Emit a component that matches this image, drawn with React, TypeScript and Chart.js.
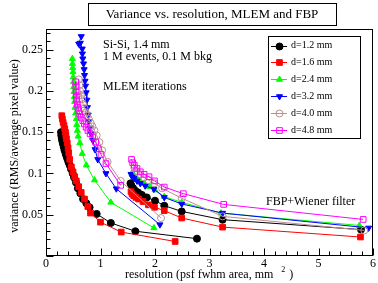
import React, { useEffect, useRef } from 'react';
import { Chart, registerables } from 'chart.js';

Chart.register(...registerables);

const FONT = '"Liberation Serif", "Times New Roman", serif';

const seriesLabels = ['d=1.2 mm', 'd=1.6 mm', 'd=2.4 mm', 'd=3.2 mm', 'd=4.0 mm', 'd=4.8 mm'];
const seriesColors = ['#000000', '#ff0000', '#00ff00', '#0000ff', '#bc8f8f', '#ff00ff'];
const seriesMarkers = ['circle', 'rect', 'triangle', 'triangle', 'circle', 'rect'];
const seriesRotation = [0, 0, 0, 180, 0, 0];
const seriesFilled = [true, true, true, true, false, false];
const seriesRadius = [3.5, 4, 3.5, 3.5, 3.5, 4];

const xTickValues = [0, 1, 2, 3, 4, 5, 6];
const yTickValues = [0.05, 0.1, 0.15, 0.2, 0.25];

// MLEM iterations
const mlemD12: [number, number][] = [
  [0.275, 0.150], [0.28, 0.146], [0.29, 0.142], [0.30, 0.139], [0.31, 0.136], [0.325, 0.132],
  [0.34, 0.128], [0.36, 0.124], [0.375, 0.121], [0.39, 0.118], [0.41, 0.114], [0.435, 0.110],
  [0.46, 0.105], [0.49, 0.100], [0.515, 0.095], [0.55, 0.089], [0.585, 0.082], [0.63, 0.076],
  [0.68, 0.069], [0.74, 0.064], [0.80, 0.059], [0.93, 0.051], [1.19, 0.040], [1.64, 0.030], [2.77, 0.021],
];
const mlemD16: [number, number][] = [
  [0.29, 0.170], [0.30, 0.166], [0.314, 0.162], [0.33, 0.158], [0.344, 0.154], [0.357, 0.150],
  [0.365, 0.146], [0.375, 0.142], [0.39, 0.137], [0.405, 0.131], [0.417, 0.125], [0.435, 0.117],
  [0.465, 0.108], [0.495, 0.102], [0.526, 0.096], [0.556, 0.091], [0.60, 0.084], [0.646, 0.077],
  [0.707, 0.069], [0.767, 0.060], [0.816, 0.052], [1.0, 0.041], [1.38, 0.029], [2.37, 0.0176],
];
const mlemD24: [number, number][] = [
  [0.483, 0.239], [0.485, 0.233], [0.49, 0.228], [0.495, 0.223], [0.50, 0.217], [0.505, 0.211],
  [0.51, 0.205], [0.515, 0.199], [0.52, 0.193], [0.526, 0.187], [0.532, 0.180], [0.544, 0.173],
  [0.556, 0.166], [0.565, 0.159], [0.575, 0.152], [0.59, 0.145], [0.62, 0.137], [0.665, 0.124],
  [0.74, 0.110], [0.89, 0.092], [1.19, 0.065], [1.98, 0.034],
];
const mlemD32: [number, number][] = [
  [0.647, 0.266], [0.60, 0.257], [0.63, 0.258], [0.665, 0.251], [0.668, 0.245], [0.676, 0.239],
  [0.689, 0.233], [0.70, 0.226], [0.707, 0.219], [0.716, 0.212], [0.725, 0.206], [0.737, 0.198],
  [0.749, 0.189], [0.76, 0.180], [0.775, 0.171], [0.79, 0.163], [0.81, 0.155], [0.83, 0.148],
  [0.86, 0.140], [0.90, 0.129], [0.95, 0.117], [1.10, 0.100], [1.29, 0.0815], [2.09, 0.038],
];
const mlemD40: [number, number][] = [
  [0.604, 0.214], [0.615, 0.207], [0.625, 0.200], [0.64, 0.195], [0.66, 0.190], [0.68, 0.184],
  [0.707, 0.179], [0.73, 0.174], [0.755, 0.170], [0.785, 0.166], [0.82, 0.161], [0.85, 0.157],
  [0.888, 0.152], [0.93, 0.146], [0.979, 0.138], [1.03, 0.128], [1.13, 0.114], [1.37, 0.091], [2.11, 0.046],
];
const mlemD48: [number, number][] = [
  [0.544, 0.211], [0.548, 0.205], [0.552, 0.199], [0.556, 0.194], [0.565, 0.189], [0.575, 0.184],
  [0.586, 0.180], [0.60, 0.176], [0.62, 0.172], [0.647, 0.168], [0.675, 0.164], [0.705, 0.160],
  [0.737, 0.156], [0.77, 0.152], [0.81, 0.148], [0.858, 0.144], [0.91, 0.138], [0.96, 0.130],
  [1.01, 0.123], [1.10, 0.112], [1.37, 0.0856],
];

// FBP + Wiener filter
const fbpD12: [number, number][] = [
  [1.55, 0.088], [1.57, 0.085], [1.60, 0.082], [1.64, 0.079], [1.69, 0.077], [1.76, 0.074],
  [1.85, 0.071], [2.0, 0.067], [2.17, 0.061], [2.49, 0.054], [3.24, 0.044], [5.78, 0.032],
];
const fbpD16: [number, number][] = [
  [1.56, 0.078], [1.58, 0.075], [1.61, 0.073], [1.65, 0.071], [1.70, 0.069], [1.78, 0.066],
  [1.88, 0.062], [1.99, 0.059], [2.17, 0.055], [2.49, 0.046], [3.24, 0.035], [5.77, 0.023],
];
const fbpD24: [number, number][] = [
  [1.58, 0.101], [1.62, 0.097], [1.67, 0.094], [1.73, 0.091], [1.80, 0.088], [1.90, 0.084],
  [2.0, 0.080], [2.17, 0.072], [2.49, 0.065], [3.21, 0.052], [5.75, 0.037],
];
const fbpD32: [number, number][] = [
  [1.56, 0.099], [1.58, 0.096], [1.62, 0.094], [1.67, 0.091], [1.73, 0.088], [1.82, 0.085],
  [1.98, 0.081], [2.17, 0.071], [2.49, 0.063], [3.24, 0.052], [5.92, 0.034],
];
const fbpD40: [number, number][] = [
  [1.62, 0.107], [1.66, 0.103], [1.73, 0.099], [1.80, 0.095], [1.88, 0.092], [1.99, 0.088],
  [2.13, 0.082], [2.49, 0.070], [3.24, 0.048], [5.84, 0.031],
];
const fbpD48: [number, number][] = [
  [1.57, 0.117], [1.59, 0.113], [1.62, 0.110], [1.67, 0.106], [1.73, 0.102], [1.80, 0.099],
  [1.89, 0.096], [1.99, 0.091], [2.17, 0.0835], [2.52, 0.0755], [3.26, 0.0625], [5.82, 0.0443],
];

const mlemSeries = [mlemD12, mlemD16, mlemD24, mlemD32, mlemD40, mlemD48];
const fbpSeries = [fbpD12, fbpD16, fbpD24, fbpD32, fbpD40, fbpD48];

const titleText = 'Variance vs. resolution, MLEM and FBP';
const xTitleText = 'resolution (psf fwhm area, mm';
const yTitleText = 'variance (RMS/average pixel value)';
const noteLines = ['Si-Si, 1.4 mm', '1 M events, 0.1 M bkg'];
const mlemNote = 'MLEM iterations';
const fbpNote = 'FBP+Wiener filter';

function drawMarker(ctx: CanvasRenderingContext2D, i: number, x: number, y: number) {
  const r = seriesRadius[i];
  ctx.save();
  ctx.beginPath();
  const m = seriesMarkers[i];
  if (m === 'circle') {
    ctx.arc(x, y, r, 0, Math.PI * 2);
  } else if (m === 'rect') {
    const s = r * Math.SQRT1_2;
    ctx.rect(x - s, y - s, 2 * s, 2 * s);
  } else {
    const dir = seriesRotation[i] === 180 ? -1 : 1;
    ctx.moveTo(x, y - dir * r);
    ctx.lineTo(x + r * 0.866, y + dir * r * 0.5);
    ctx.lineTo(x - r * 0.866, y + dir * r * 0.5);
    ctx.closePath();
  }
  ctx.strokeStyle = seriesColors[i];
  ctx.lineWidth = 1;
  if (seriesFilled[i]) {
    ctx.fillStyle = seriesColors[i];
    ctx.fill();
  }
  ctx.stroke();
  ctx.restore();
}

const decorPlugin = {
  id: 'decor',
  afterDraw(chart: any) {
    const ctx: CanvasRenderingContext2D = chart.ctx;
    const a = chart.chartArea;
    const xs = chart.scales.x;
    const ys = chart.scales.y;
    ctx.save();
    ctx.strokeStyle = '#000';
    ctx.lineWidth = 1;
    const L = Math.round(a.left) + 0.5;
    const R = Math.round(a.right) - 0.5;
    const T = Math.round(a.top) + 0.5;
    const B = Math.round(a.bottom) - 0.5;
    ctx.strokeRect(L, T, R - L, B - T);
    // ticks
    ctx.beginPath();
    for (let i = 0; i <= 30; i++) {
      const px = Math.round(xs.getPixelForValue(i * 0.2)) + 0.5;
      const len = i % 5 === 0 ? 7 : 4;
      ctx.moveTo(px, B);
      ctx.lineTo(px, B - len);
    }
    for (let i = 0; i <= 27; i++) {
      const py = Math.round(ys.getPixelForValue(i * 0.01)) + 0.5;
      const len = i % 5 === 0 ? 7 : 4;
      ctx.moveTo(L, py);
      ctx.lineTo(L + len, py);
    }
    ctx.stroke();

    // title box
    ctx.fillStyle = '#fff';
    ctx.fillRect(88.5, 3.5, 248, 22);
    ctx.strokeRect(88.5, 3.5, 248, 22);
    ctx.fillStyle = '#000';
    ctx.font = `13px ${FONT}`;
    ctx.textAlign = 'center';
    ctx.textBaseline = 'middle';
    ctx.fillText(titleText, 212, 15);

    // legend
    ctx.fillStyle = '#fff';
    ctx.fillRect(268.5, 36.5, 92, 102);
    ctx.strokeStyle = '#000';
    ctx.strokeRect(268.5, 36.5, 92, 102);
    ctx.font = `10px ${FONT}`;
    ctx.textAlign = 'left';
    for (let i = 0; i < seriesLabels.length; i++) {
      const y = 45.5 + i * 16.9;
      ctx.strokeStyle = seriesColors[i];
      ctx.beginPath();
      ctx.moveTo(271, Math.round(y) + 0.5);
      ctx.lineTo(287, Math.round(y) + 0.5);
      ctx.stroke();
      drawMarker(ctx, i, 279.5, Math.round(y) + 0.5);
      ctx.fillStyle = '#000';
      ctx.fillText(seriesLabels[i], 291, y);
    }

    // notes
    ctx.font = `12px ${FONT}`;
    ctx.fillStyle = '#000';
    ctx.textAlign = 'left';
    ctx.fillText(noteLines[0], 103, 45);
    ctx.fillText(noteLines[1], 103, 57);
    ctx.fillText(mlemNote, 103, 87);
    ctx.fillText(fbpNote, 266, 202);

    // axis titles
    ctx.textAlign = 'left';
    const xw = ctx.measureText(xTitleText).width;
    const x0 = 125;
    ctx.fillText(xTitleText, x0, 275);
    ctx.font = `8px ${FONT}`;
    ctx.fillText('2', x0 + xw + 8, 270);
    ctx.font = `12px ${FONT}`;
    ctx.fillText(')', x0 + xw + 16, 275);

    ctx.translate(15, 146);
    ctx.rotate(-Math.PI / 2);
    ctx.textAlign = 'center';
    ctx.fillText(yTitleText, 0, 0);
    ctx.restore();
  },
};

export default function App() {
  const ref = useRef<HTMLCanvasElement>(null);
  useEffect(() => {
    document.body.style.margin = '0';
    const datasets: any[] = [];
    for (let i = 0; i < 6; i++) {
      const base = {
        label: seriesLabels[i],
        borderColor: seriesColors[i],
        backgroundColor: seriesFilled[i] ? seriesColors[i] : 'rgba(0,0,0,0)',
        pointBackgroundColor: seriesFilled[i] ? seriesColors[i] : 'rgba(0,0,0,0)',
        pointBorderColor: seriesColors[i],
        pointStyle: seriesMarkers[i],
        pointRotation: seriesRotation[i],
        pointRadius: seriesRadius[i],
        pointBorderWidth: 1,
        borderWidth: 1,
        showLine: true,
        fill: false,
        tension: 0,
        order: 10 - i,
      };
      datasets.push({ ...base, data: mlemSeries[i].map(([x, y]) => ({ x, y })) });
      datasets.push({ ...base, data: fbpSeries[i].map(([x, y]) => ({ x, y })) });
    }
    const chart = new Chart(ref.current as HTMLCanvasElement, {
      type: 'scatter',
      data: { datasets },
      options: {
        animation: false,
        responsive: false,
        devicePixelRatio: 1,
        layout: { padding: { left: 0, top: 29, right: 2, bottom: 0 } },
        plugins: { legend: { display: false }, tooltip: { enabled: false } },
        scales: {
          x: {
            type: 'linear',
            min: 0,
            max: 6,
            grid: { display: false, drawTicks: false },
            border: { display: false },
            afterBuildTicks: (s: any) => { s.ticks = xTickValues.map((v) => ({ value: v })); },
            afterFit: (s: any) => { s.height = 27; },
            ticks: {
              padding: 1,
              color: '#000',
              font: { family: FONT, size: 12 },
              maxRotation: 0,
              callback: (v: any) => String(v),
            },
          },
          y: {
            type: 'linear',
            min: 0,
            max: 0.275,
            grid: { display: false, drawTicks: false },
            border: { display: false },
            afterBuildTicks: (s: any) => { s.ticks = yTickValues.map((v) => ({ value: v })); },
            afterFit: (s: any) => { s.width = 46; },
            ticks: {
              padding: 3,
              color: '#000',
              font: { family: FONT, size: 12 },
              callback: (v: any) => String(+Number(v).toFixed(3)),
            },
          },
        },
      },
      plugins: [decorPlugin],
    });
    return () => chart.destroy();
  }, []);
  return <canvas ref={ref} width={378} height={283} style={{ display: 'block' }} />;
}
